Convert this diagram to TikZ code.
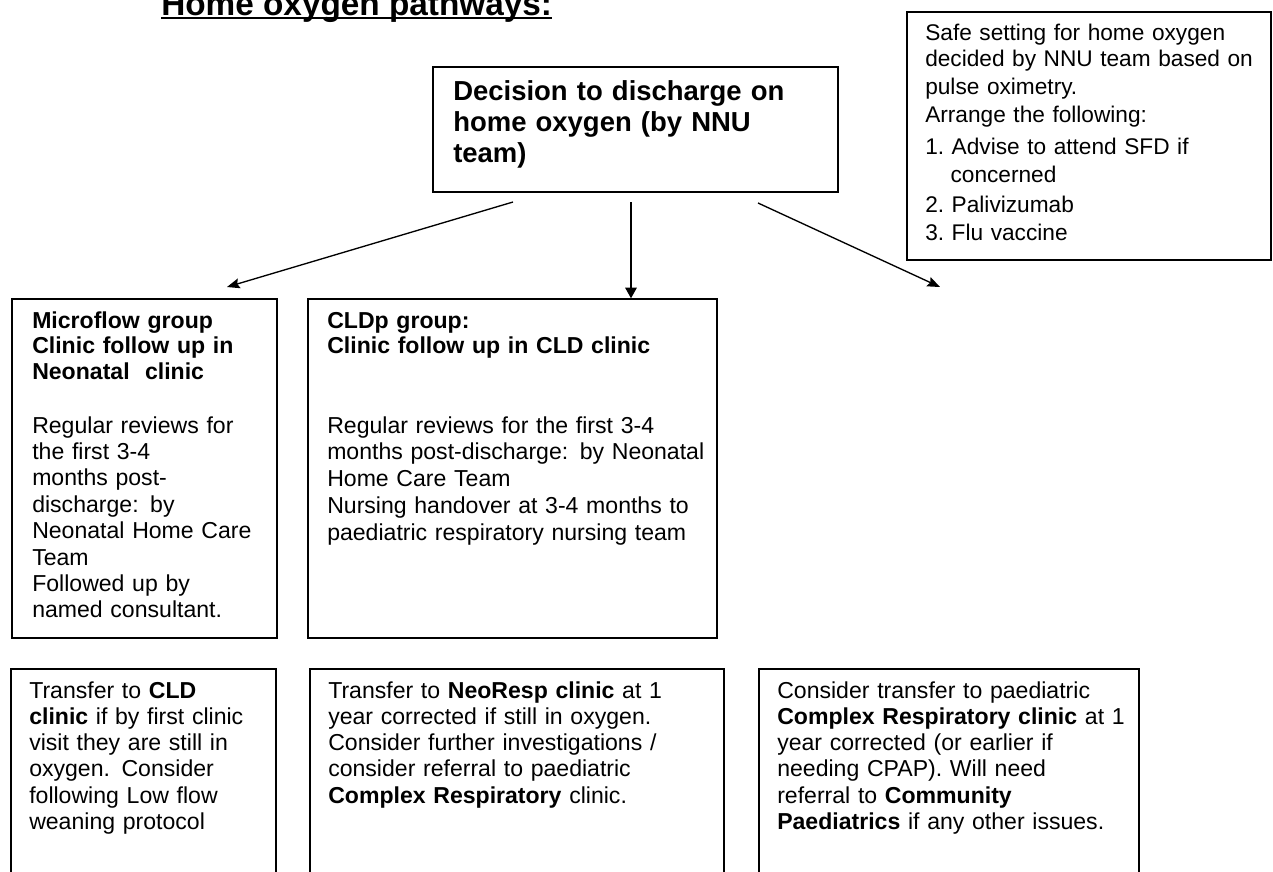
\documentclass[tikz,border=0pt]{standalone}
\usepackage{fontspec}
\setmainfont{Liberation Sans}
\usetikzlibrary{arrows.meta,fit}
\begin{document}
\begin{tikzpicture}[x=0.75pt,y=-0.75pt,
  box/.style={draw=black,line width=1pt,inner sep=0pt},
  txt/.style={anchor=base west,inner sep=0pt,text width=#1,align=left},
  bodyfont/.style={font=\fontsize{17.3}{19.8}\selectfont},
  headfont/.style={font=\bfseries\fontsize{17.3}{19.2}\selectfont},
  conn/.style={line width=1pt,-{Stealth[length=9.5pt,width=7.5pt,inset=1.5pt]}},
  connmid/.style={line width=1.5pt,-{Triangle[length=8pt,width=8.5pt]}}]
\useasboundingbox (0,0) rectangle (1273,871);
\clip (0,0) rectangle (1273,871);

% title
\node[anchor=base west,inner sep=0pt,font=\bfseries\fontsize{25}{30}\selectfont] (title) at (161,15) {Home oxygen pathways:};
\draw[line width=1.5pt] ([yshift=-2.3pt]title.base west) -- ([yshift=-2.3pt]title.base east);

% boxes
\node[box,fit={(907,12) (1271,260)}] (safe) {};
\node[box,fit={(433,67) (838,192)}] (decision) {};
\node[box,fit={(12,299) (277,638)}] (micro) {};
\node[box,fit={(308,299) (717,638)}] (cldp) {};
\node[box,fit={(11,669) (276,900)}] (b1) {};
\node[box,fit={(310,669) (724,900)}] (b2) {};
\node[box,fit={(759,669) (1139,900)}] (b3) {};

% texts
\node[txt=330pt,font=\fontsize{17}{19}\selectfont] (safetext) at (925,40) {Safe setting for home oxygen\\[1.2pt]
decided by NNU team based on\\[2pt]
pulse oximetry.\\[2pt]
Arrange the following:\\[5pt]
1.~Advise to attend SFD if\\[2pt]
\hspace*{19pt}concerned\\[3.5pt]
2.~Palivizumab\\[2pt]
3.~Flu vaccine};

\node[txt=300pt,font=\bfseries\fontsize{20.6}{23.25}\selectfont] (dtext) at (453,100) {Decision to discharge on\\ home oxygen (by NNU\\ team)};

\node[txt=230pt,headfont] (microhead) at (32,328) {Microflow group\\ Clinic follow up in\\ Neonatal\ \ clinic};
\node[txt=230pt,bodyfont] (microbody) at (32,433) {Regular reviews for\\ the first 3-4\\ months post-\\ discharge: by\\ Neonatal Home Care\\ Team\\ Followed up by\\ named consultant.};

\node[txt=330pt,headfont] (cldphead) at (327,328) {CLDp group:\\ Clinic follow up in CLD clinic};
\node[txt=330pt,font=\fontsize{17.3}{20.2}\selectfont] (cldpbody) at (327,433) {Regular reviews for the first 3-4\\ months post-discharge: by Neonatal\\ Home Care Team\\ Nursing handover at 3-4 months to\\ paediatric respiratory nursing team};

\node[txt=230pt,font=\fontsize{17.3}{19.7}\selectfont] (b1text) at (29,698) {Transfer to \textbf{CLD}\\ \textbf{clinic} if by first clinic\\ visit they are still in\\ oxygen. Consider\\ following Low flow\\ weaning protocol};
\node[txt=330pt,font=\fontsize{17.3}{19.7}\selectfont] (b2text) at (328,698) {Transfer to \textbf{NeoResp clinic} at 1\\ year corrected if still in oxygen.\\ Consider further investigations /\\ consider referral to paediatric\\ \textbf{Complex Respiratory} clinic.};
\node[txt=330pt,font=\fontsize{17.3}{19.7}\selectfont] (b3text) at (777,698) {Consider transfer to paediatric\\ \textbf{Complex Respiratory clinic} at 1\\ year corrected (or earlier if\\ needing CPAP). Will need\\ referral to \textbf{Community}\\ \textbf{Paediatrics} if any other issues.};

% connectors
\coordinate (a1s) at (513,202);
\coordinate (a1e) at (227,287);
\coordinate (a2s) at (631,202);
\coordinate (a3s) at (758,203);
\coordinate (a3e) at (940,287);
\draw[conn] (a1s) -- (a1e);
\draw[connmid] (a2s) -- (a2s |- cldp.north);
\draw[conn] (a3s) -- (a3e);
\end{tikzpicture}
\end{document}
